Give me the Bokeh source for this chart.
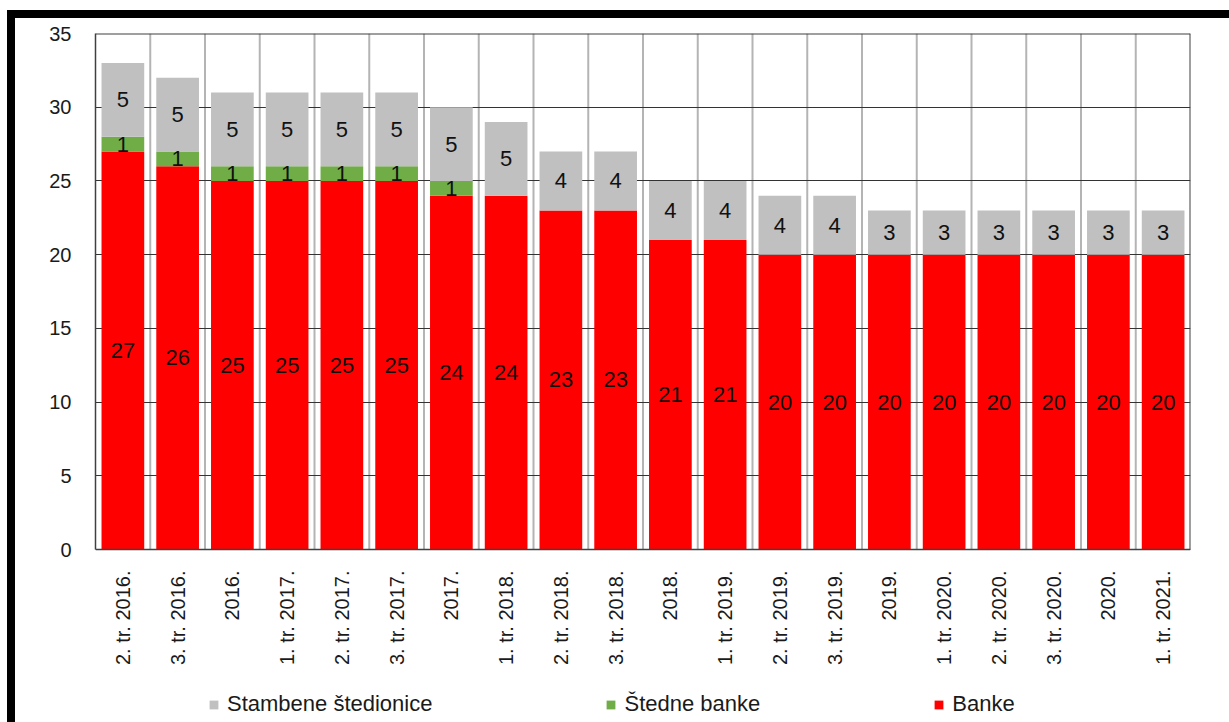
import math
from bokeh.plotting import figure
from bokeh.models import ColumnDataSource, FactorRange, FixedTicker, Legend
from bokeh.embed import file_html
from bokeh.resources import INLINE
from bokeh.core.properties import value

categories = ["2. tr. 2016.", "3. tr. 2016.", "2016.", "1. tr. 2017.", "2. tr. 2017.",
              "3. tr. 2017.", "2017.", "1. tr. 2018.", "2. tr. 2018.", "3. tr. 2018.",
              "2018.", "1. tr. 2019.", "2. tr. 2019.", "3. tr. 2019.", "2019.",
              "1. tr. 2020.", "2. tr. 2020.", "3. tr. 2020.", "2020.", "1. tr. 2021."]
banke = [27, 26, 25, 25, 25, 25, 24, 24, 23, 23, 21, 21, 20, 20, 20, 20, 20, 20, 20, 20]
stedne_banke = [1, 1, 1, 1, 1, 1, 1, 0, 0, 0, 0, 0, 0, 0, 0, 0, 0, 0, 0, 0]
stambene_stedionice = [5, 5, 5, 5, 5, 5, 5, 5, 4, 4, 4, 4, 4, 4, 3, 3, 3, 3, 3, 3]
y_ticks = [0, 5, 10, 15, 20, 25, 30, 35]

series_names = ["Banke", "Štedne banke", "Stambene štedionice"]
series_keys = ["banke", "stedne", "stambene"]
colors = ["#FF0000", "#70AD47", "#C0C0C0"]

FONT = "Liberation Sans"
Y_MAX = y_ticks[-1]

source = ColumnDataSource(dict(cat=categories, banke=banke, stedne=stedne_banke,
                               stambene=stambene_stedionice))

# label positions derived from data (segment midpoints)
lx, ly, lt = [], [], []
for i, c in enumerate(categories):
    base = 0
    for vals in (banke, stedne_banke, stambene_stedionice):
        v = vals[i]
        if v > 0:
            lx.append(c)
            ly.append(base + v / 2)
            lt.append(str(v))
        base += v
labels = ColumnDataSource(dict(x=lx, y=ly, t=lt))

# frame extends below zero so the legend can sit inside it; x axis fixed at y=0
p = figure(x_range=FactorRange(*categories, range_padding=0), y_range=(-11.73, Y_MAX),
           width=1208, height=704, frame_width=1095, frame_height=689,
           output_backend="svg", toolbar_location=None,
           min_border_left=80, min_border_right=47, min_border_top=15,
           min_border_bottom=0, background_fill_color="white",
           border_fill_color="white")
p.styles = {"box-sizing": "content-box", "margin-left": "7px", "margin-top": "10px",
            "border-left": "8px solid black", "border-top": "8px solid black",
            "border-right": "6px solid black"}
p.outline_line_color = None

# vertical separators between categories (from 0 to top)
sep = ColumnDataSource(dict(x=[(c, -0.5) for c in categories[1:]],
                            y0=[0] * (len(categories) - 1),
                            y1=[Y_MAX] * (len(categories) - 1)))
sep_r = p.segment(x0="x", y0="y0", x1="x", y1="y1", source=sep,
                  line_color="#B4B4B4", line_width=2)
sep_r.level = "underlay"

rs = p.vbar_stack(series_keys, x="cat", width=0.78, color=colors, source=source,
                  line_color=None)

# right and top edges of the plot box
edge = ColumnDataSource(dict(x0=[(categories[-1], 0.5), (categories[0], -0.5)],
                             x1=[(categories[-1], 0.5), (categories[-1], 0.5)],
                             y0=[0, Y_MAX], y1=[Y_MAX, Y_MAX]))
p.segment(x0="x0", y0="y0", x1="x1", y1="y1", source=edge,
          line_color="#404040", line_width=2)

p.text(x="x", y="y", text="t", source=labels, text_align="center",
       text_baseline="middle", text_font=value(FONT), text_font_size="22px",
       text_color="#111111")

p.xgrid.grid_line_color = None
p.ygrid.ticker = FixedTicker(ticks=y_ticks)
p.ygrid.grid_line_color = "#333333"
p.ygrid.grid_line_width = 1
p.ygrid.level = "underlay"

p.yaxis.ticker = FixedTicker(ticks=y_ticks)
p.yaxis.bounds = (0, Y_MAX)
p.yaxis.axis_line_color = "#404040"
p.yaxis.axis_line_width = 1.5
p.yaxis.major_tick_line_color = None
p.yaxis.minor_tick_line_color = None
p.yaxis.major_label_standoff = 18
p.yaxis.major_label_text_font = FONT
p.yaxis.major_label_text_font_size = "20px"
p.yaxis.major_label_text_color = "#1a1a1a"

p.xaxis.fixed_location = 0
p.xaxis.axis_line_color = "#404040"
p.xaxis.axis_line_width = 1.5
p.xaxis.major_tick_line_color = None
p.xaxis.minor_tick_line_color = None
p.xaxis.major_label_orientation = math.pi / 2
p.xaxis.major_label_standoff = 15
p.xaxis.major_label_text_font = FONT
p.xaxis.major_label_text_font_size = "20px"
p.xaxis.major_label_text_color = "#1a1a1a"

legend = Legend(items=[(series_names[2], [rs[2]]), (series_names[1], [rs[1]]),
                       (series_names[0], [rs[0]])],
                orientation="horizontal", spacing=173, glyph_width=11,
                glyph_height=11, label_standoff=8,
                label_text_font=FONT,
                label_text_font_size="22px", label_text_color="#1a1a1a",
                border_line_color=None, background_fill_alpha=0, padding=0,
                margin=0, location=(113, 5))
p.add_layout(legend, "center")

open("out.html", "w").write(file_html(p, INLINE))
